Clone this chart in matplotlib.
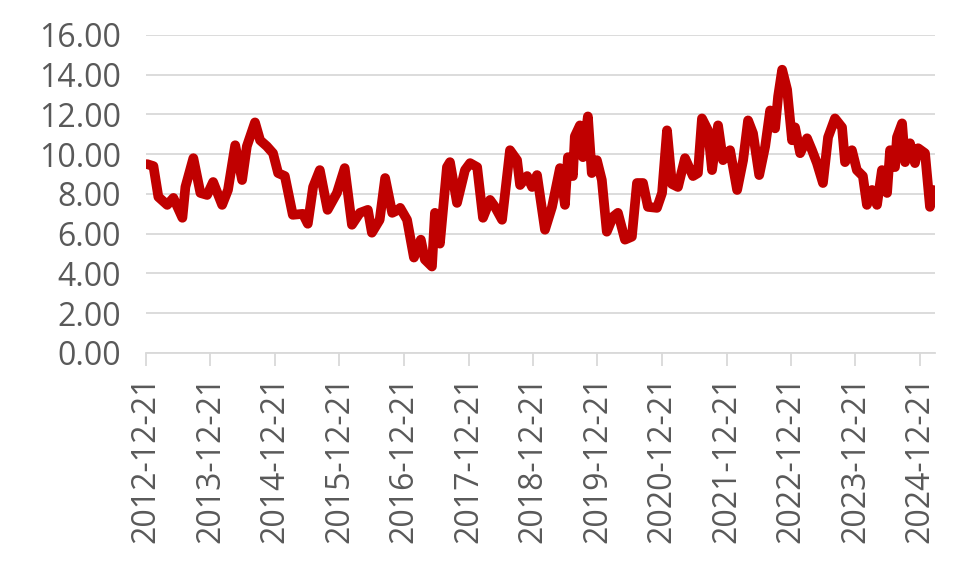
import matplotlib.pyplot as plt
import matplotlib.dates as mdates
import numpy as np
import pandas as pd

plt.rcParams['font.family'] = ['Open Sans', 'DejaVu Sans']

# values
dates = ["2012-12-27", "2013-02-01", "2013-03-01", "2013-04-20", "2013-05-25",
         "2013-07-15", "2013-08-01", "2013-09-15", "2013-10-25", "2013-12-02",
         "2014-01-05", "2014-02-25", "2014-03-30", "2014-05-10", "2014-06-18",
         "2014-07-15", "2014-08-30", "2014-09-28", "2014-11-05", "2014-12-10",
         "2015-01-08", "2015-02-15", "2015-04-01", "2015-05-28", "2015-06-25",
         "2015-07-25", "2015-09-01", "2015-10-15", "2015-12-07", "2016-01-20",
         "2016-03-01", "2016-04-15", "2016-05-30", "2016-06-22", "2016-08-05",
         "2016-09-05", "2016-10-15", "2016-11-18", "2016-11-29", "2017-01-07",
         "2017-02-15", "2017-03-26", "2017-04-18", "2017-05-28", "2017-06-14",
         "2017-07-12", "2017-08-21", "2017-09-07", "2017-10-17", "2017-12-01",
         "2017-12-30", "2018-02-08", "2018-03-13", "2018-04-22", "2018-05-20",
         "2018-06-29", "2018-08-13", "2018-09-22", "2018-10-09", "2018-11-18",
         "2018-12-16", "2019-01-13", "2019-02-27", "2019-04-08", "2019-05-23",
         "2019-06-20", "2019-07-07", "2019-08-04", "2019-08-15", "2019-09-13",
         "2019-09-30", "2019-10-28", "2019-11-19", "2019-12-18", "2020-01-15",
         "2020-02-12", "2020-03-18", "2020-04-15", "2020-05-25", "2020-07-03",
         "2020-08-01", "2020-09-04", "2020-10-02", "2020-11-22", "2020-12-21",
         "2021-01-18", "2021-02-15", "2021-03-21", "2021-04-30", "2021-06-14",
         "2021-07-12", "2021-08-04", "2021-09-07", "2021-09-30", "2021-11-03",
         "2021-12-01", "2022-01-10", "2022-02-19", "2022-03-25", "2022-04-22",
         "2022-05-20", "2022-06-24", "2022-07-28", "2022-08-25", "2022-09-22",
         "2022-10-09", "2022-11-01", "2022-11-29", "2022-12-27", "2023-01-13",
         "2023-02-11", "2023-03-22", "2023-04-19", "2023-05-17", "2023-06-20",
         "2023-07-19", "2023-08-27", "2023-10-06", "2023-10-23", "2023-12-01",
         "2023-12-29", "2024-02-01", "2024-02-24", "2024-03-24", "2024-04-21",
         "2024-05-19", "2024-06-17", "2024-07-04", "2024-08-01", "2024-08-12",
         "2024-09-10", "2024-09-27", "2024-10-25", "2024-11-22", "2024-12-10",
         "2025-01-18", "2025-02-15", "2025-03-05"]
values = [9.5, 9.4, 7.85, 7.45, 7.8, 6.8, 8.35, 9.8, 8.05, 7.95,
          8.6, 7.45, 8.2, 10.45, 8.7, 10.4, 11.6, 10.7, 10.4, 10.05,
          9.05, 8.9, 6.95, 7.0, 6.5, 8.35, 9.2, 7.2, 8.05, 9.3,
          6.45, 7.05, 7.2, 6.05, 6.7, 8.8, 7.05, 7.2, 7.3, 6.7,
          4.8, 5.7, 4.7, 4.35, 7.05, 5.5, 9.35, 9.6, 7.55, 9.2,
          9.55, 9.35, 6.8, 7.7, 7.35, 6.7, 10.2, 9.7, 8.45, 8.9,
          8.35, 8.95, 6.2, 7.35, 9.3, 7.45, 9.85, 8.9, 10.9, 11.45,
          9.85, 11.9, 9.05, 9.7, 8.7, 6.1, 6.85, 7.05, 5.7, 5.85,
          8.55, 8.55, 7.35, 7.3, 8.05, 11.2, 8.5, 8.35, 9.8, 8.9,
          9.05, 11.8, 11.2, 9.2, 11.45, 9.7, 10.2, 8.2, 9.7, 11.7,
          11.05, 8.95, 10.4, 12.2, 11.3, 12.9, 14.25, 13.25, 10.7, 11.35,
          10.05, 10.8, 10.2, 9.55, 8.55, 10.85, 11.8, 11.35, 9.6, 10.2,
          9.2, 8.9, 7.45, 8.2, 7.45, 9.2, 8.05, 10.2, 9.35, 10.85,
          11.55, 9.6, 10.55, 9.55, 10.3, 10.05, 7.35, 8.2]
tick_dates = ["2012-12-21", "2013-12-21", "2014-12-21", "2015-12-21",
              "2016-12-21", "2017-12-21", "2018-12-21", "2019-12-21",
              "2020-12-21", "2021-12-21", "2022-12-21", "2023-12-21",
              "2024-12-21"]

x = pd.to_datetime(dates)
ticks = pd.to_datetime(tick_dates)

fig = plt.figure(figsize=(9.8, 5.82), dpi=100)
ax = fig.add_axes([0.149, 0.3935, 0.805, 0.5465])

ax.plot(x, values, color='#C00000', lw=7, solid_joinstyle='round',
        solid_capstyle='round', zorder=3)

ax.set_ylim(0, 16)
ax.set_yticks(np.arange(0, 17, 2))
ax.yaxis.set_major_formatter(plt.FuncFormatter(lambda v, p: f"{v:.2f}"))
ax.set_xlim(pd.Timestamp("2012-12-21"), pd.Timestamp("2025-03-15"))
ax.set_xticks(ticks)
ax.set_xticklabels(tick_dates, rotation=90)

ax.grid(axis='y', color='#D9D9D9', lw=1.3)
ax.set_axisbelow(True)
for s in ['top', 'right', 'left']:
    ax.spines[s].set_visible(False)
ax.spines['bottom'].set_color('#D9D9D9')
ax.spines['bottom'].set_linewidth(1.3)

ax.tick_params(axis='y', length=0, pad=18, labelsize=23, labelcolor='#595959')
ax.tick_params(axis='x', length=9.5, width=1.3, color='#D9D9D9', pad=7,
               labelsize=23, labelcolor='#595959')

fig.savefig('out.png', dpi=100)
